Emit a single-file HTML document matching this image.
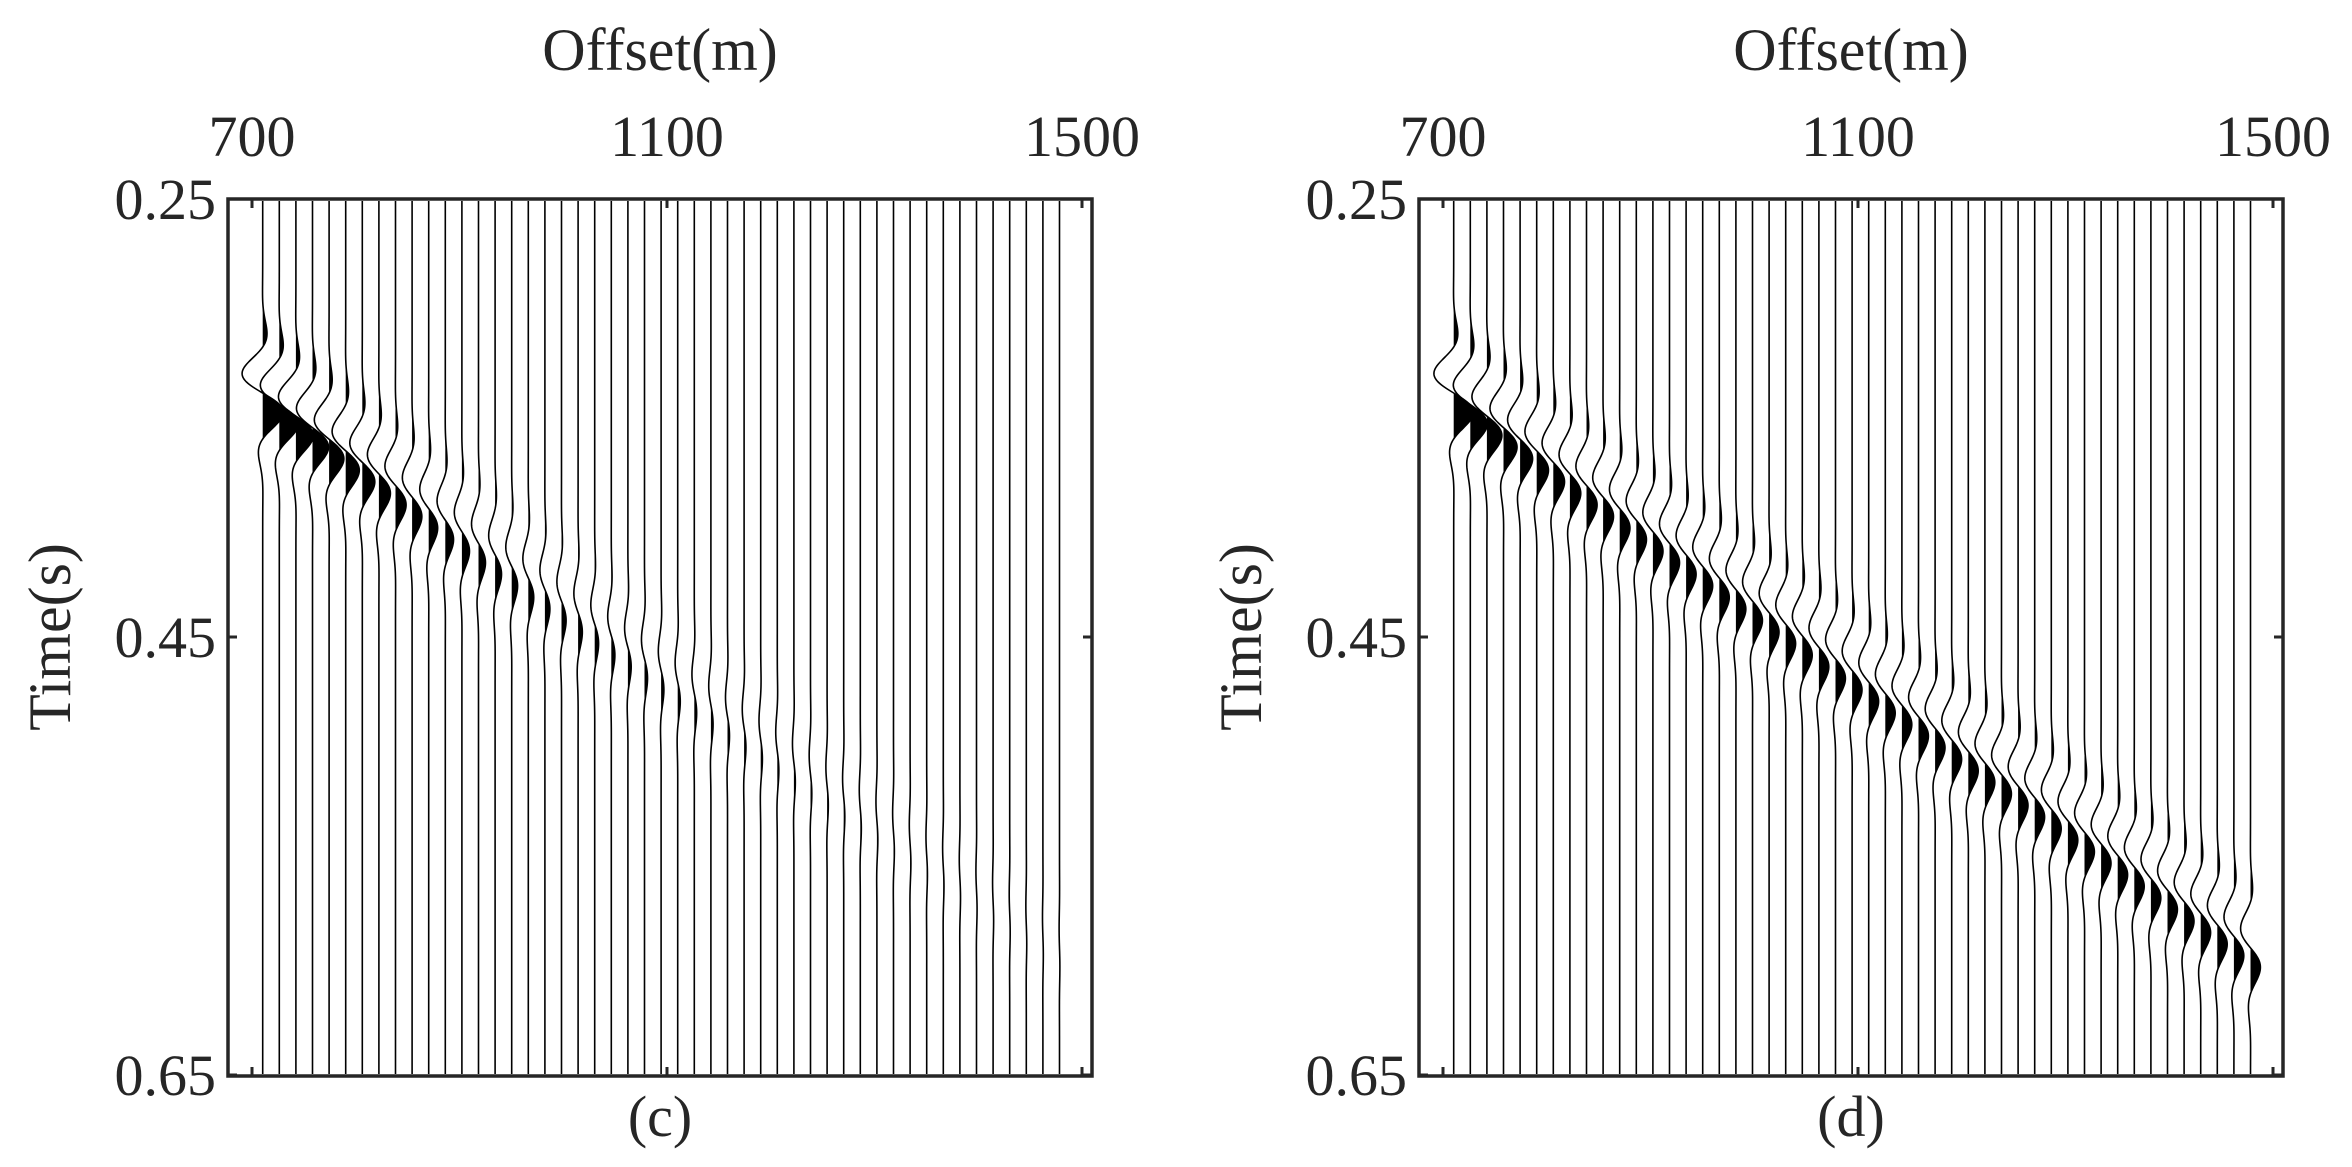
<!DOCTYPE html>
<html><head><meta charset="utf-8"><style>
html,body{margin:0;padding:0;background:#fff;}
svg{display:block;}
text{font-family:"Liberation Serif",serif;fill:#262626;}
</style></head><body>
<svg id="s" width="2352" height="1167" viewBox="0 0 2352 1167" xmlns="http://www.w3.org/2000/svg">
<rect width="2352" height="1167" fill="#fff"/>
<g id="g"></g>
</svg>
<script>
var NS="http://www.w3.org/2000/svg",g=document.getElementById("g");
function el(n,a,t){var e=document.createElementNS(NS,n);for(var k in a)e.setAttribute(k,a[k]);if(t!==undefined)e.textContent=t;g.appendChild(e);return e;}
function w(tau){var om=Math.PI/46,s=34;return Math.sin(om*tau)*Math.exp(-tau*tau/(2*s*s));}
function panel(dx,label,mode){
  var L=228+dx,R=1092+dx,T=199,B=1076;
  for(var i=0;i<49;i++){
    var x0=262.7+dx+i*16.6;
    var c=393+i*11.56;
    var A=mode==0?25*Math.exp(-i/12):(12+12*Math.exp(-i/3));
    var line="",fill="M"+x0+","+T;
    for(var y=T+2;y<=B-2;y+=1){
      var d=A*w(y-c);
      line+=(y==T+2?"M":"L")+(x0+d).toFixed(2)+","+y;
      fill+="L"+(x0+Math.max(d,0)).toFixed(2)+","+y;
    }
    fill+="L"+x0+","+(B-2)+"Z";
    el("path",{d:fill,fill:"#000"});
    el("path",{d:line,fill:"none",stroke:"#000","stroke-width":"1.6"});
  }
  el("rect",{x:L,y:T,width:R-L,height:B-T,fill:"none",stroke:"#262626","stroke-width":"3.5"});
  var xt=[[252,"700"],[667,"1100"],[1082,"1500"]];
  xt.forEach(function(t){var x=t[0]+dx;
    el("line",{x1:x,y1:T,x2:x,y2:T+9,stroke:"#262626","stroke-width":"3"});
    el("line",{x1:x,y1:B,x2:x,y2:B-9,stroke:"#262626","stroke-width":"3"});
    el("text",{x:x,y:156,"font-size":"58","text-anchor":"middle"},t[1]);});
  var yt=[[199,"0.25"],[637,"0.45"],[1075,"0.65"]];
  yt.forEach(function(t){
    el("line",{x1:L,y1:t[0],x2:L+9,y2:t[0],stroke:"#262626","stroke-width":"3"});
    el("line",{x1:R,y1:t[0],x2:R-9,y2:t[0],stroke:"#262626","stroke-width":"3"});
    el("text",{x:L-12,y:t[0]+20,"font-size":"58","text-anchor":"end"},t[1]);});
  el("text",{x:660+dx,y:70,"font-size":"60","text-anchor":"middle"},"Offset(m)");
  el("text",{x:0,y:0,"font-size":"60","text-anchor":"middle",transform:"translate("+(70+dx)+",637) rotate(-90)"},"Time(s)");
  el("text",{x:660+dx,y:1136,"font-size":"58","text-anchor":"middle"},label);
}
panel(0,"(c)",0);
panel(1191,"(d)",1);
</script>
</body></html>
